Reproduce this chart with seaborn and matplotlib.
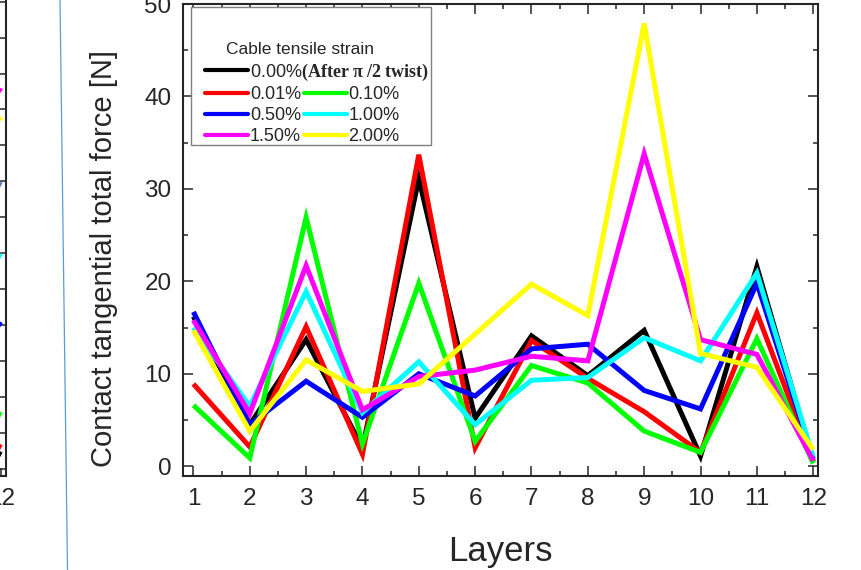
import numpy as np
import pandas as pd
import matplotlib
matplotlib.use("Agg")
import matplotlib.pyplot as plt
from matplotlib.lines import Line2D
from matplotlib.patches import Rectangle
from matplotlib.ticker import MultipleLocator, FixedFormatter
import seaborn as sns

# ---- data -------------------------------------------------------------
layers = list(range(1, 13))
strain_labels = ["0.00%", "0.01%", "0.10%", "0.50%", "1.00%", "1.50%", "2.00%"]
colors = ["#000000", "#FF0000", "#00FF00", "#0000FF", "#00FFFF", "#FF00FF", "#FFFF00"]

force_000 = [16.2, 4.5, 13.7, 2.0, 31.1, 5.2, 14.1, 9.8, 14.7, 1.1, 21.6, 0.5]
force_001 = [8.9, 2.1, 15.1, 1.3, 33.7, 2.0, 13.6, 9.5, 5.9, 1.5, 16.6, 0.5]
force_010 = [6.6, 0.9, 26.9, 2.4, 19.8, 2.7, 10.9, 9.0, 3.8, 1.5, 13.8, 0.3]
force_050 = [16.7, 4.5, 9.2, 5.3, 10.0, 7.6, 12.7, 13.2, 8.2, 6.2, 19.8, 0.8]
force_100 = [15.0, 6.5, 18.9, 5.8, 11.3, 4.5, 9.3, 9.6, 13.9, 11.4, 20.9, 1.0]
force_150 = [15.8, 5.7, 21.7, 6.1, 9.7, 10.4, 11.9, 11.4, 33.8, 13.7, 12.1, 0.6]
force_200 = [14.7, 3.8, 11.5, 8.1, 8.9, 14.3, 19.7, 16.3, 47.9, 12.2, 10.7, 1.8]

legend_title = "Cable tensile strain"
twist_note = r"$\mathbf{(After\ \pi\ /2\ twist)}$"

# neighbouring panel (only its right edge falls inside the figure)
side_colors = ["#FF00FF", "#FFFF00", "#5B7FC0", "#00FFFF", "#0000FF",
               "#00FF00", "#FF0000", "#000000"]
side_layer11 = [11.4, 10.6, 8.5, 6.6, 4.7, 2.1, 1.2, 1.0]
side_layer12 = [10.5, 9.7, 7.9, 5.9, 4.0, 1.5, 0.6, 0.4]

series = [force_000, force_001, force_010, force_050, force_100, force_150, force_200]
df = pd.DataFrame({
    "Layer": np.tile(layers, len(series)),
    "Force": np.concatenate(series),
    "Strain": np.repeat(strain_labels, len(layers)),
})

# ---- style ------------------------------------------------------------
sns.set_style("ticks")
plt.rcParams["font.family"] = ["Liberation Sans", "DejaVu Sans"]
plt.rcParams["mathtext.fontset"] = "custom"
plt.rcParams["mathtext.bf"] = "Liberation Serif:bold"
plt.rcParams["mathtext.rm"] = "Liberation Serif"
plt.rcParams["mathtext.it"] = "Liberation Serif:italic"

W, H = 861, 570
fig = plt.figure(figsize=(W / 100, H / 100), dpi=100)

# main axes placement (pixels measured from top-left)
L_px, R_px, T_px, B_px = 182.7, 818.3, 4.0, 475.5
ax = fig.add_axes([L_px / W, 1 - B_px / H, (R_px - L_px) / W, (B_px - T_px) / H])

def ax_x(px):
    return (px - L_px) / (R_px - L_px)

def ax_y(py):
    return (B_px - py) / (B_px - T_px)

sns.lineplot(data=df, x="Layer", y="Force", hue="Strain", hue_order=strain_labels,
             palette=colors, sort=False, linewidth=3.6, legend=False, ax=ax,
             estimator=None)
for ln in ax.lines:
    ln.set_solid_joinstyle("miter")
    ln.set_solid_capstyle("butt")

ax.set_xlim(0.81, 12.09)
ax.set_ylim(-1.0, 50.0)
ax.set_xticks(layers)
ax.set_yticks(np.arange(0, 51, 10))
ax.xaxis.set_minor_locator(MultipleLocator(0.5))
ax.yaxis.set_minor_locator(MultipleLocator(5))

spine_col = "#262626"
for s in ax.spines.values():
    s.set_visible(True)
    s.set_linewidth(1.5)
    s.set_color(spine_col)
ax.tick_params(which="both", direction="in", top=True, right=True,
               color=spine_col, width=1.1)
ax.tick_params(which="major", length=7.2, labelsize=17.5, pad=8)
ax.tick_params(which="minor", length=3.8)
ax.tick_params(axis="x", which="major", pad=9)

ax.set_xlabel("Layers", fontsize=25)
ax.set_ylabel("Contact tangential total force [N]", fontsize=21)
ax.xaxis.set_label_coords(0.5, ax_y(535))
ax.yaxis.set_label_coords(ax_x(118), ax_y(258.5))

# ---- legend ------------------------------------------------------------
frame = Rectangle((ax_x(190.7), ax_y(145)), ax_x(430.7) - ax_x(190.7),
                  ax_y(7.3) - ax_y(145), transform=ax.transAxes,
                  facecolor="white", edgecolor="#808080", linewidth=1.0, zorder=4)
ax.add_patch(frame)
ax.text(ax_x(300), ax_y(49), legend_title, transform=ax.transAxes,
        ha="center", va="center", fontsize=12.5, zorder=6)

leg_kw = dict(frameon=False, borderpad=0, borderaxespad=0, handlelength=2.38,
              handletextpad=0.1, fontsize=13)
proxies = [Line2D([], [], color=c, lw=3.0) for c in colors]
leg_a = ax.legend([proxies[0]], [strain_labels[0] + twist_note], loc="center left",
                  bbox_to_anchor=(ax_x(205), ax_y(72)), **leg_kw)
ax.add_artist(leg_a)
order = [1, 3, 5, 2, 4, 6]
ax.legend([proxies[i] for i in order], [strain_labels[i] for i in order], ncol=2,
          loc="center left", bbox_to_anchor=(ax_x(205), ax_y(115.5)),
          columnspacing=0.15, labelspacing=0.22, **leg_kw)

# ---- edge of the adjacent panel --------------------------------------
side_L = L_px - (R_px - L_px) - 10
side_R = 5.7
side = fig.add_axes([side_L / W, 1 - B_px / H, (side_R - side_L) / W, (B_px + 2) / H])
for c, a, b in zip(side_colors, side_layer11, side_layer12):
    side.plot([11, 12], [a, b], color=c, lw=3.6, solid_capstyle="butt")
px_per_unit = (R_px - L_px) / 11.28
side.set_xlim(12 - (-side_L) / px_per_unit, 12 + side_R / px_per_unit)
side.set_ylim(-0.18, 13.1)
side.set_xticks(layers)
side.xaxis.set_major_formatter(FixedFormatter([""] * 11 + ["12"]))
side.set_yticks(np.arange(0, 14, 1))
for s in side.spines.values():
    s.set_linewidth(1.5)
    s.set_color(spine_col)
side.spines["top"].set_visible(False)
side.tick_params(which="both", direction="in", right=True, left=False,
                 labelleft=False, color=spine_col, width=1.1, length=5.5,
                 labelsize=17.5, pad=9)

# thin separator line between panels
fig.add_artist(Line2D([60 / W, 67.5 / W], [1, 0], transform=fig.transFigure,
                      color="#5B9BD5", linewidth=0.9))

fig.savefig("out.png", dpi=100)
